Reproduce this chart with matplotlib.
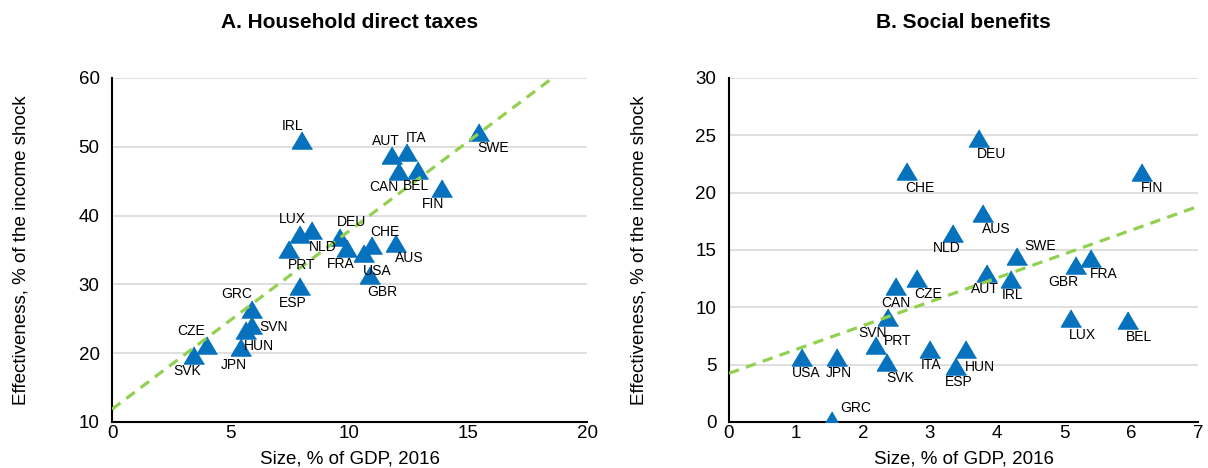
import numpy as np
import matplotlib
matplotlib.use("Agg")
import matplotlib.pyplot as plt

plt.rcParams['font.family'] = ['Liberation Sans', 'DejaVu Sans']

# Panel A: household direct taxes
tax_names = ['IRL', 'AUT', 'ITA', 'CAN', 'BEL', 'FIN', 'SWE', 'LUX', 'NLD', 'PRT',
             'DEU', 'FRA', 'USA', 'CHE', 'AUS', 'GBR', 'ESP', 'GRC', 'SVN', 'HUN',
             'JPN', 'CZE', 'SVK']
tax_size = [8.0, 11.8, 12.4, 12.1, 12.9, 13.9, 15.45, 7.9, 8.4, 7.45,
            9.6, 9.9, 10.6, 10.95, 11.95, 10.85, 7.9, 5.9, 5.9, 5.65,
            5.45, 4.0, 3.45]
tax_eff = [51.0, 48.8, 49.2, 46.5, 46.6, 44.0, 52.2, 37.3, 37.9, 35.1,
           36.9, 35.3, 34.6, 35.7, 36.0, 31.4, 29.8, 26.4, 24.1, 23.4,
           20.9, 21.2, 19.7]

# Panel B: social benefits
ben_names = ['CHE', 'NLD', 'CAN', 'CZE', 'DEU', 'FIN', 'AUS', 'SWE', 'AUT', 'IRL',
             'GBR', 'FRA', 'LUX', 'BEL', 'SVN', 'PRT', 'USA', 'JPN', 'SVK', 'ITA',
             'ESP', 'HUN', 'GRC']
ben_size = [2.66, 3.34, 2.5, 2.8, 3.73, 6.16, 3.79, 4.3, 3.85, 4.21,
            5.18, 5.4, 5.1, 5.95, 2.37, 2.19, 1.09, 1.61, 2.36, 3.0,
            3.39, 3.54, 1.54]
ben_eff = [21.9, 16.5, 11.9, 12.6, 24.8, 21.8, 18.2, 14.5, 13.0, 12.5,
           13.7, 14.3, 9.1, 8.9, 9.2, 6.7, 5.7, 5.7, 5.2, 6.4,
           4.9, 6.4, 0.2]

# label offsets in pixels (dx, dy), y up
tax_off = [(-9, 14), (-6, 14), (10, 14), (-16, -16), (-2, -16), (-9, -16), (14, -16),
           (-7, 15), (11, -17), (13, -16), (12, 15), (-6, -16), (13, -18), (13, 13),
           (13, -15), (13, -17), (-7, -17), (-15, 15), (21, -2), (13, -16),
           (-8, -18), (-16, 14), (-7, -16)]
ben_off = [(13, -17), (-6, -15), (-1, -17), (12, -16), (13, -16), (10, -16), (13, -16),
           (23, 10), (-2, -16), (1, -16), (-13, -17), (13, -16), (12, -17), (11, -17),
           (-15, -16), (22, 4), (4, -16), (2, -16), (13, -16), (1, -16),
           (3, -16), (14, -18), (24, 12)]

blue = '#0672bd'
green = '#92d050'
tri = [(0, 0.85), (-1, -0.85), (1, -0.85)]

fig = plt.figure(figsize=(12.08, 4.68), dpi=100)
axA = fig.add_axes([112/1208, 46/468, 475/1208, 344/468])
axB = fig.add_axes([729/1208, 46/468, 469/1208, 344/468])


def panel(ax, names, xs, ys, offs, xlim, ylim, xt, yt):
    ax.set_xlim(*xlim)
    ax.set_ylim(*ylim)
    ax.set_xticks(xt)
    ax.set_yticks(yt)
    ax.grid(axis='y', color='#d9d9d9', lw=1.2)
    ax.set_axisbelow(True)
    for s in ['top', 'right']:
        ax.spines[s].set_visible(False)
    for s in ['left', 'bottom']:
        ax.spines[s].set_linewidth(1.5)
    ax.tick_params(length=0, labelsize=13.5)
    ax.tick_params(axis='x', pad=2)
    ax.tick_params(axis='y', pad=9)
    ax.plot(xs, ys, ls='none', marker=tri, ms=14.5, color=blue, zorder=3)
    # linear trend
    b, a = np.polyfit(xs, ys, 1)
    tx = np.array(xlim, dtype=float)
    ax.plot(tx, a + b * tx, color=green, lw=2.3, dashes=(3.3, 2.3), zorder=4)
    for n, x, y, (dx, dy) in zip(names, xs, ys, offs):
        ax.annotate(n, (x, y), xytext=(dx, dy), textcoords='offset pixels',
                    ha='center', va='center', fontsize=10, zorder=5)


panel(axA, tax_names, tax_size, tax_eff, tax_off, (0, 20), (10, 60),
      [0, 5, 10, 15, 20], [10, 20, 30, 40, 50, 60])
panel(axB, ben_names, ben_size, ben_eff, ben_off, (0, 7), (0, 30),
      range(8), range(0, 31, 5))

fig.text(349.5/1208, 1 - 22/468, 'A. Household direct taxes', ha='center', va='center',
         fontsize=15, fontweight='bold')
fig.text(963.5/1208, 1 - 22/468, 'B. Social benefits', ha='center', va='center',
         fontsize=15, fontweight='bold')
for cx in [349.5, 963.5]:
    fig.text(cx/1208, 4/468, 'Size, % of GDP, 2016', ha='center', va='baseline', fontsize=13.5)
for cx in [21, 639]:
    fig.text(cx/1208, 1 - 250/468, 'Effectiveness, % of the income shock', ha='center',
             va='center', rotation=90, fontsize=13.5)

fig.savefig('out.png', dpi=100)
